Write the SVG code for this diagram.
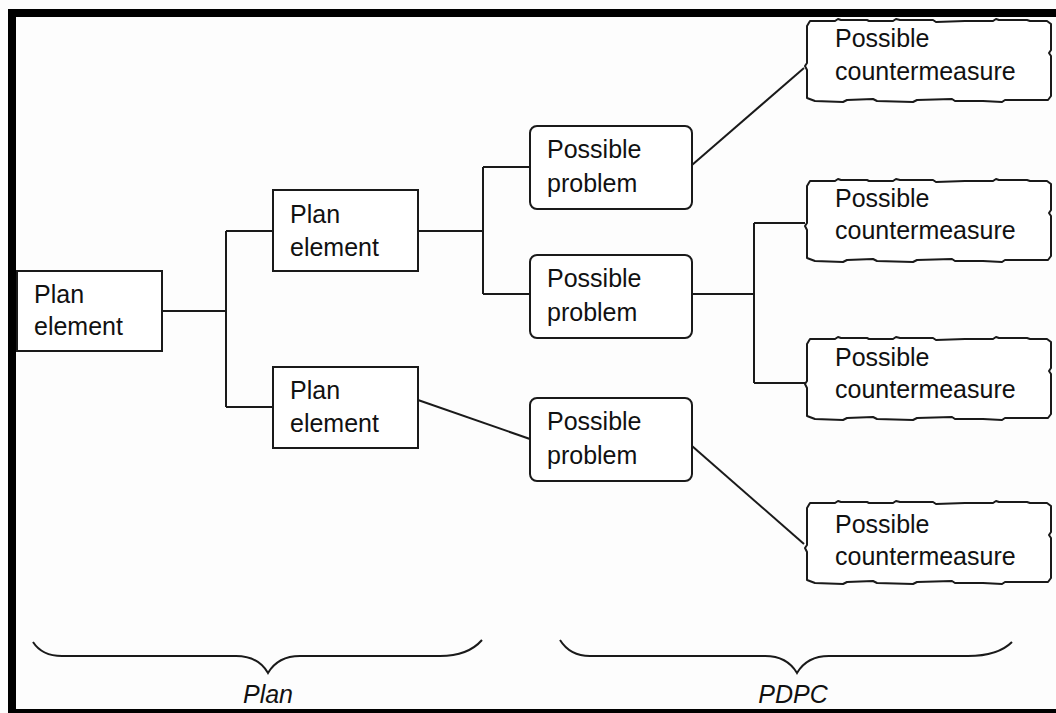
<svg xmlns="http://www.w3.org/2000/svg" xmlns:xlink="http://www.w3.org/1999/xlink" width="1056" height="713" viewBox="0 0 1056 713">
  <style>
    .bg { fill: #fdfdfd; }
    .frame { fill: none; stroke: #000; stroke-width: 8; }
    .box { fill: #fff; stroke: #1a1a1a; stroke-width: 2; }
    .cm { fill: #fff; stroke: #1a1a1a; stroke-width: 2; stroke-linejoin: round; }
    .wire { fill: none; stroke: #1a1a1a; stroke-width: 2; }
    .brace { fill: none; stroke: #1a1a1a; stroke-width: 2; }
    .lbl { font-family: "Liberation Sans", Arial, sans-serif; font-size: 25px; fill: #111; }
    .cap { font-family: "Liberation Sans", Arial, sans-serif; font-size: 25px; font-style: italic; fill: #111; text-anchor: middle; }
  </style>
  <defs>
    <!-- rough-edged outline used for the countermeasure boxes -->
    <path id="cmShape" class="cm" d="M5,1 L30,1 L33,-1 L36,0 L62,0 L64,1 L88,1 L91,-1 L95,0 L128,0 L131,2 L160,1 L188,1 L191,-1 L194,0 L222,0 L225,1 L242,1 L246,4 L246,30 L244,33 L246,36 L246,76 L243,80 L200,80 L197,82 L178,81 L150,81 L147,79 L112,80 L108,82 L72,81 L68,79 L42,80 L38,82 L10,81 L2,78 L2,50 L0,46 L2,43 L2,6 Z"/>
  </defs>

  <rect class="bg" x="0" y="0" width="1056" height="713"/>
  <rect class="frame" x="12" y="13" width="1100" height="700"/>

  <!-- connectors -->
  <g id="connectors">
    <path class="wire" d="M162,311 H226 M226,231 V407 M226,231 H273 M226,407 H273"/>
    <path class="wire" d="M418,231 H483 M483,167 V294 M483,167 H530 M483,294 H530"/>
    <path class="wire" d="M418,400 L530,439"/>
    <path class="wire" d="M692,165 L804,68"/>
    <path class="wire" d="M692,294 H754 M754,223 V383 M754,223 H805 M754,383 H805"/>
    <path class="wire" d="M692,446 L804,544"/>
  </g>

  <!-- plan elements -->
  <g id="plan-root">
    <rect class="box" x="17" y="271" width="145" height="80"/>
    <text class="lbl" x="34" y="303">Plan</text>
    <text class="lbl" x="34" y="335">element</text>
  </g>
  <g id="plan-upper">
    <rect class="box" x="273" y="190" width="145" height="81"/>
    <text class="lbl" x="290" y="223">Plan</text>
    <text class="lbl" x="290" y="256">element</text>
  </g>
  <g id="plan-lower">
    <rect class="box" x="273" y="367" width="145" height="81"/>
    <text class="lbl" x="290" y="399">Plan</text>
    <text class="lbl" x="290" y="432">element</text>
  </g>

  <!-- possible problems -->
  <g id="problem-1">
    <rect class="box" x="530" y="126" width="162" height="83" rx="7"/>
    <text class="lbl" x="547" y="158">Possible</text>
    <text class="lbl" x="547" y="192">problem</text>
  </g>
  <g id="problem-2">
    <rect class="box" x="530" y="255" width="162" height="83" rx="7"/>
    <text class="lbl" x="547" y="287">Possible</text>
    <text class="lbl" x="547" y="321">problem</text>
  </g>
  <g id="problem-3">
    <rect class="box" x="530" y="398" width="162" height="83" rx="7"/>
    <text class="lbl" x="547" y="430">Possible</text>
    <text class="lbl" x="547" y="464">problem</text>
  </g>

  <!-- possible countermeasures -->
  <g id="countermeasure-1">
    <use xlink:href="#cmShape" transform="translate(805,20)"/>
    <text class="lbl" x="835" y="47">Possible</text>
    <text class="lbl" x="835" y="80">countermeasure</text>
  </g>
  <g id="countermeasure-2">
    <use xlink:href="#cmShape" transform="translate(805,180)"/>
    <text class="lbl" x="835" y="207">Possible</text>
    <text class="lbl" x="835" y="239">countermeasure</text>
  </g>
  <g id="countermeasure-3">
    <use xlink:href="#cmShape" transform="translate(805,338)"/>
    <text class="lbl" x="835" y="366">Possible</text>
    <text class="lbl" x="835" y="398">countermeasure</text>
  </g>
  <g id="countermeasure-4">
    <use xlink:href="#cmShape" transform="translate(805,502)"/>
    <text class="lbl" x="835" y="533">Possible</text>
    <text class="lbl" x="835" y="565">countermeasure</text>
  </g>

  <!-- braces and captions -->
  <g id="brace-plan">
    <path class="brace" d="M33,642 Q42,656 62,656 L236,656 Q258,656 268,673 Q278,656 300,656 L440,656 Q468,656 482,640"/>
    <text class="cap" x="268" y="703">Plan</text>
  </g>
  <g id="brace-pdpc">
    <path class="brace" d="M560,640 Q570,656 590,656 L765,656 Q787,656 797,673 Q807,656 829,656 L968,656 Q998,656 1012,642"/>
    <text class="cap" x="793" y="703">PDPC</text>
  </g>
</svg>
